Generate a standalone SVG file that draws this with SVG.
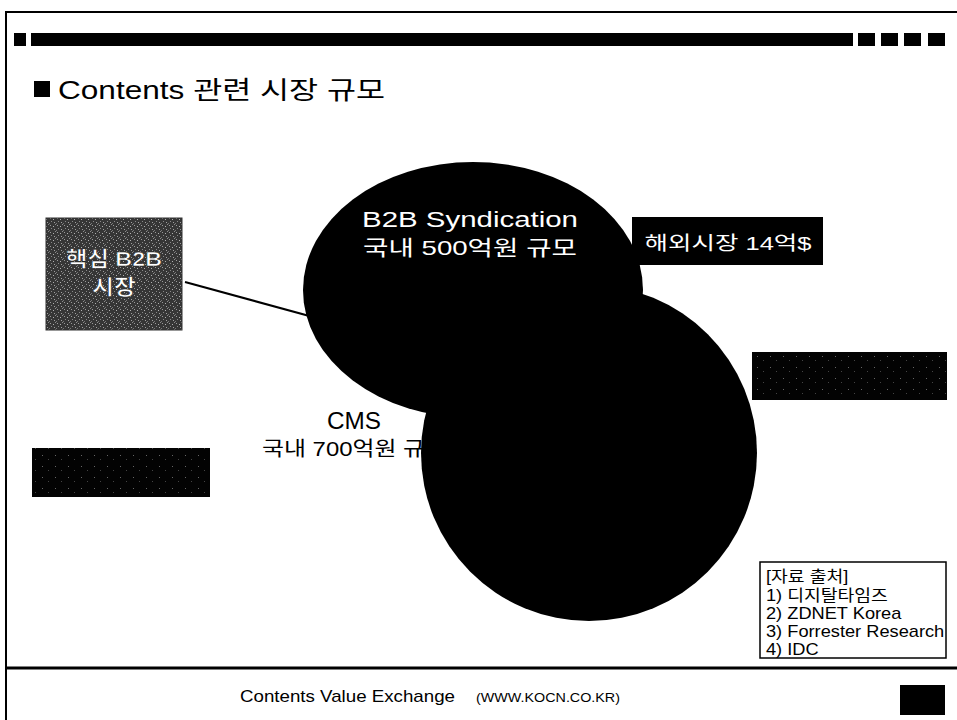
<svg xmlns="http://www.w3.org/2000/svg" width="957" height="720" viewBox="0 0 957 720">
<defs>
<style>
.t{font-family:'Liberation Sans','Noto Sans CJK KR',sans-serif;}
.w{fill:#fff;}
.blk{fill:#000;}
.src{font-size:16px;fill:#000;}
</style>
<pattern id="speck" width="7" height="7" patternUnits="userSpaceOnUse">
<rect width="7" height="7" fill="#363636"/>
<rect x="1" y="1" width="1" height="1" fill="#9a9a9a"/>
<rect x="4" y="2" width="1" height="1" fill="#b0b0b0"/>
<rect x="2" y="4" width="1" height="1" fill="#888"/>
<rect x="5" y="5" width="1" height="1" fill="#a0a0a0"/>
<rect x="0" y="6" width="1" height="1" fill="#777"/>
<rect x="6" y="0" width="1" height="1" fill="#8a8a8a"/>
</pattern>
<pattern id="dark" width="13" height="11" patternUnits="userSpaceOnUse">
<rect width="13" height="11" fill="#030303"/>
<rect x="3" y="4" width="1" height="1" fill="#666"/>
<rect x="9" y="8" width="1" height="1" fill="#444"/>
</pattern>
</defs>
<rect width="957" height="720" fill="#fff"/>
<g id="frame">
<line x1="5" y1="12" x2="957" y2="12" stroke="#000" stroke-width="2"/>
<line x1="6" y1="12" x2="6" y2="720" stroke="#000" stroke-width="2"/>
<rect x="14" y="33" width="12" height="13" class="blk"/>
<rect x="31" y="33" width="822" height="13" class="blk"/>
<rect x="858" y="33" width="17" height="13" class="blk"/>
<rect x="881" y="33" width="17" height="13" class="blk"/>
<rect x="904" y="33" width="17" height="13" class="blk"/>
<rect x="928" y="33" width="17" height="13" class="blk"/>
</g>
<g id="title">
<rect x="34" y="81" width="16" height="16" class="blk"/>
<text x="58" y="99" class="t" font-size="25" textLength="327" lengthAdjust="spacingAndGlyphs">Contents 관련 시장 규모</text>
</g>
<g id="cms-label">
<text x="354" y="429" class="t" font-size="24" text-anchor="middle" textLength="54" lengthAdjust="spacingAndGlyphs">CMS</text>
<text x="262" y="456" class="t" font-size="20" textLength="185" lengthAdjust="spacingAndGlyphs">국내 700억원 규모</text>
</g>
<g id="connectors">
<line x1="185" y1="282" x2="335" y2="323" stroke="#000" stroke-width="2"/>
</g>
<g id="b2b-syndication">
<ellipse cx="473" cy="290" rx="170" ry="128" class="blk"/>
<text x="470" y="227" class="t w" font-size="22" text-anchor="middle" textLength="216" lengthAdjust="spacingAndGlyphs">B2B Syndication</text>
<text x="470" y="255" class="t w" font-size="21" text-anchor="middle" textLength="214" lengthAdjust="spacingAndGlyphs">국내 500억원 규모</text>
</g>
<g id="cms-circle">
<circle cx="589" cy="453" r="168" class="blk"/>
</g>
<g id="core-b2b">
<rect x="46" y="218" width="136" height="112" fill="url(#speck)" stroke="#333" stroke-width="1"/>
<text x="114" y="266" class="t w" font-size="21" font-weight="bold" text-anchor="middle" stroke="#222" stroke-width="0.6" textLength="96" lengthAdjust="spacingAndGlyphs">핵심 B2B</text>
<text x="114" y="294" class="t w" font-size="21" font-weight="bold" text-anchor="middle" stroke="#222" stroke-width="0.6" textLength="44" lengthAdjust="spacingAndGlyphs">시장</text>
</g>
<g id="overseas">
<rect x="632" y="217" width="191" height="48" class="blk"/>
<text x="728" y="250" class="t w" font-size="19" text-anchor="middle" textLength="167" lengthAdjust="spacingAndGlyphs">해외시장 14억$</text>
</g>
<g id="box-right">
<rect x="752" y="352" width="195" height="48" fill="url(#dark)"/>
</g>
<g id="box-left">
<rect x="32" y="448" width="178" height="49" fill="url(#dark)"/>
</g>
<g id="sources">
<rect x="760" y="562" width="186" height="96" fill="#fff" stroke="#000" stroke-width="1.5"/>
<g transform="translate(766,0) scale(1.14,1) translate(-766,0)">
<text x="766" y="582" class="t src">[자료 출처]</text>
<text x="766" y="601" class="t src">1) 디지탈타임즈</text>
<text x="766" y="619" class="t src">2) ZDNET Korea</text>
<text x="766" y="637" class="t src">3) Forrester Research</text>
<text x="766" y="655" class="t src">4) IDC</text>
</g>
</g>
<g id="footer">
<line x1="5" y1="668" x2="957" y2="668" stroke="#000" stroke-width="3"/>
<text x="240" y="702" class="t" font-size="17" textLength="215" lengthAdjust="spacingAndGlyphs">Contents Value Exchange</text>
<text x="476" y="702" class="t" font-size="13" textLength="144" lengthAdjust="spacingAndGlyphs">(WWW.KOCN.CO.KR)</text>
<rect x="900" y="685" width="45" height="30" class="blk"/>
</g>
</svg>
